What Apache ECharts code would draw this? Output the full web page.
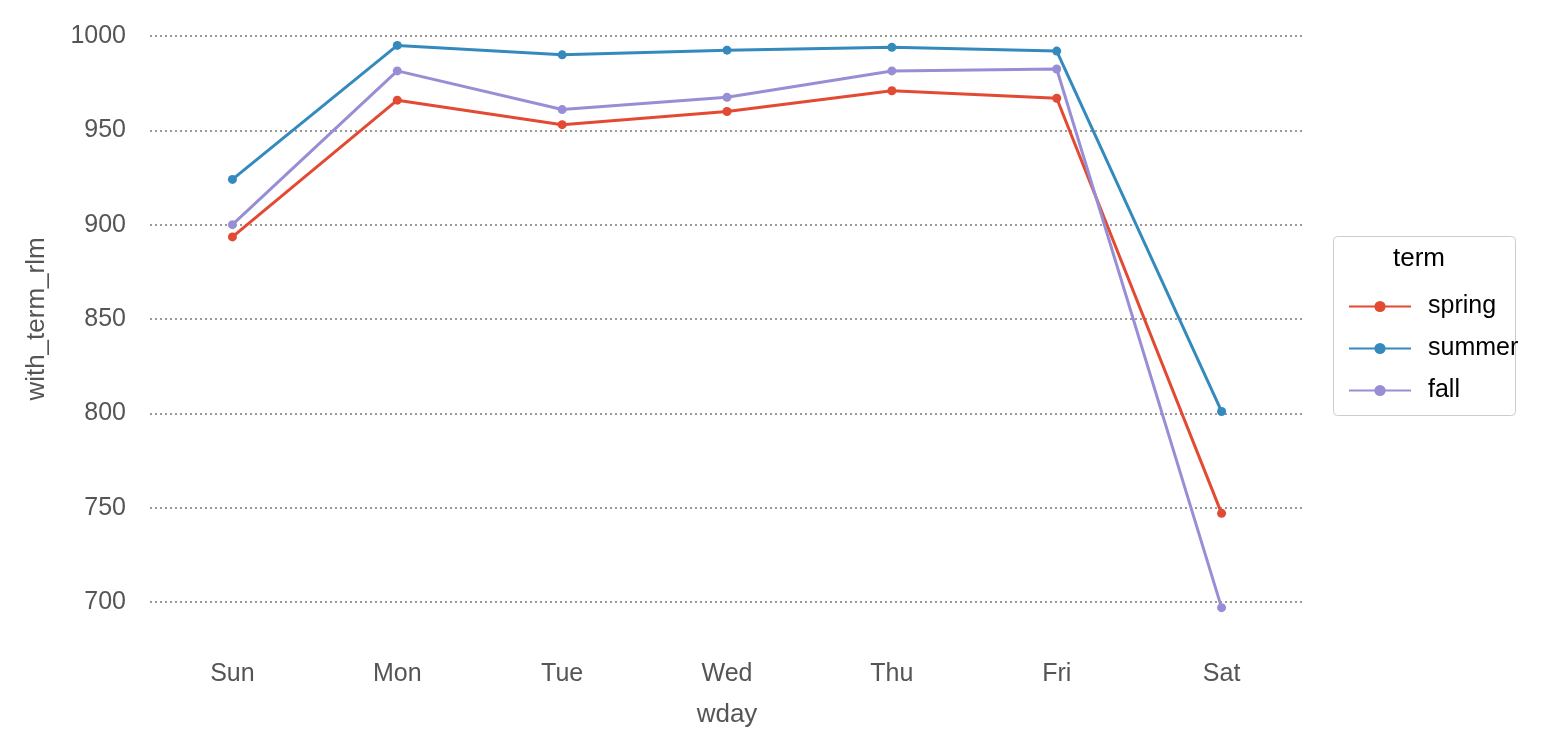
<!DOCTYPE html>
<html>
<head>
<meta charset="utf-8">
<script src="https://cdn.jsdelivr.net/npm/echarts@6/dist/echarts.min.js"></script>
<style>html,body{margin:0;padding:0;background:#fff}#main{width:1552px;height:748px}</style>
</head>
<body>
<div id="main"></div>
<script>
let days = ['Sun', 'Mon', 'Tue', 'Wed', 'Thu', 'Fri', 'Sat'];
let spring = [893.5, 966, 953, 960, 971, 967, 747];
let summer = [924, 995, 990, 992.5, 994, 992, 801];
let fall = [900, 981.5, 961, 967.5, 981.5, 982.5, 697];

let myChart = echarts.init(document.getElementById('main'));

function line(name, values, color) {
  return {
    name: name, type: 'line', data: values, clip: false,
    symbol: 'circle', symbolSize: 9,
    lineStyle: { width: 3, color: color },
    itemStyle: { color: color }
  };
}

let option = {
  animation: false,
  textStyle: { fontFamily: 'Liberation Sans, Arial, sans-serif' },
  grid: { left: 150, right: 248, top: 36, bottom: 146 },
  xAxis: {
    type: 'category', data: days,
    name: 'wday', nameLocation: 'middle', nameGap: 100,
    nameTextStyle: { fontSize: 26, color: '#555' },
    axisLine: { show: false }, axisTick: { show: false },
    axisLabel: { fontSize: 25, color: '#555', margin: 60 }
  },
  yAxis: {
    type: 'value', min: 700, max: 1000, interval: 50,
    name: 'with_term_rlm', nameLocation: 'middle', nameGap: 100,
    nameTextStyle: { fontSize: 26, color: '#555' },
    axisLine: { show: false }, axisTick: { show: false },
    axisLabel: { fontSize: 25, color: '#555', margin: 24, formatter: v => String(v) },
    splitLine: { lineStyle: { color: '#999', type: [2, 3], width: 2 } }
  },
  legend: {
    orient: 'vertical', left: 1343, top: 289, itemGap: 17,
    itemWidth: 62, itemHeight: 14,
    textStyle: { fontSize: 25, color: '#000', padding: [0, 0, 0, 12] },
    data: ['spring', 'summer', 'fall']
  },
  graphic: [
    { type: 'rect', left: 1333, top: 236, shape: { width: 182, height: 179, r: 4 },
      style: { fill: '#fff', stroke: '#ccc', lineWidth: 1 }, z: -1 },
    { type: 'text', left: 1393, top: 246, style: { text: 'term', fontSize: 26, fill: '#000' } }
  ],
  series: [
    line('spring', spring, '#E24A33'),
    line('summer', summer, '#348ABD'),
    line('fall', fall, '#988ED5')
  ]
};
myChart.setOption(option);
</script>
</body>
</html>
